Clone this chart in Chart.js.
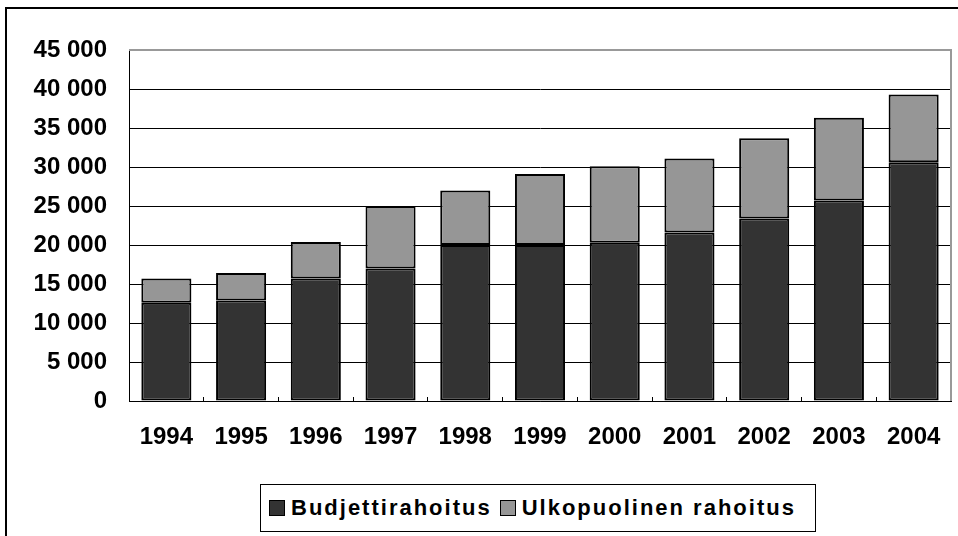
<!DOCTYPE html>
<html lang="fi">
<head>
<meta charset="utf-8">
<title>Budjettirahoitus ja ulkopuolinen rahoitus 1994–2004</title>
<script src="https://cdn.jsdelivr.net/npm/chart.js@4"></script>
<style>
    html, body { margin: 0; padding: 0; background: #fff; overflow: hidden; }
    .wrap { position: relative; width: 958px; height: 536px; }
    .frame {
        position: absolute; left: 5px; top: 7px; width: 2000px; height: 2000px;
        border-left: 2px solid #000; border-top: 2px solid #000;
    }
    #chart { position: absolute; left: 0; top: 0; }
    .legend {
        position: absolute; left: 260px; top: 484px; width: 554px; height: 46px;
        border: 1px solid #000; background: #fff;
        display: flex; align-items: center;
        font: bold 22px "Liberation Sans", Arial, sans-serif; letter-spacing: 2px; color: #000;
    }
    .legend-item { display: flex; align-items: center; }
    .legend-item:first-child { margin-left: 8px; }
    .legend-item + .legend-item { margin-left: 8px; }
    .dot {
        width: 16px; height: 16px; box-sizing: border-box; border: 1px solid #000;
        background: var(--c); margin-right: 6px;
    }
</style>
</head>
<body>
<div class="wrap">
    <div class="frame"></div>
    <canvas id="chart" width="958" height="536"></canvas>
    <div class="legend" id="chart-legend"></div>
</div>
<script>
// arvot luettu kuvasta
const years = ['1994', '1995', '1996', '1997', '1998', '1999', '2000', '2001', '2002', '2003', '2004'];
const budjetti = [12600, 12900, 15700, 17000, 20000, 20000, 20300, 21600, 23400, 25700, 30600];
const ulkopuolinen = [3100, 3500, 4700, 8000, 7000, 9100, 9800, 9500, 10300, 10600, 8700];
const seriesNames = ['Budjettirahoitus', 'Ulkopuolinen rahoitus'];
const colors = ['#333333', '#969696'];

const fmt = v => String(v).replace(/\B(?=(\d{3})+(?!\d))/g, ' ');
const tickFont = { family: '"Liberation Sans", Arial, sans-serif', size: 24, weight: 'bold' };

// harmaa kehys piirtoalueen ylä- ja oikeaan reunaan
const plotFrame = {
    id: 'plotFrame',
    afterDatasetsDraw(c) {
        const { ctx, chartArea: a } = c;
        ctx.save();
        ctx.strokeStyle = '#999';
        ctx.lineWidth = 2;
        ctx.beginPath();
        ctx.moveTo(a.left, a.top);
        ctx.lineTo(a.right, a.top);
        ctx.lineTo(a.right, a.bottom);
        ctx.stroke();
        ctx.restore();
    }
};

const chart = new Chart(document.getElementById('chart'), {
    type: 'bar',
    data: {
        labels: years,
        datasets: [budjetti, ulkopuolinen].map((d, i) => ({
            label: seriesNames[i],
            data: d,
            backgroundColor: colors[i],
            borderColor: '#000',
            borderWidth: 2,
            borderSkipped: false,
            categoryPercentage: 1,
            barPercentage: 0.67
        }))
    },
    options: {
        responsive: false,
        animation: false,
        devicePixelRatio: 1,
        layout: { padding: { top: 50, right: 7, left: 0, bottom: 0 } },
        plugins: { legend: { display: false }, tooltip: { enabled: false } },
        scales: {
            x: {
                stacked: true,
                grid: { drawOnChartArea: false, tickLength: -4, color: '#000', lineWidth: 1 },
                border: { color: '#000', width: 1 },
                ticks: { color: '#000', font: tickFont, padding: 26, maxRotation: 0 },
                afterFit: s => {
                    s.height = 135;
                    s.paddingLeft = 0;
                    s.paddingRight = 0;
                }
            },
            y: {
                stacked: true,
                min: 0,
                max: 45000,
                grid: {
                    drawTicks: false,
                    color: c => (c.tick && c.tick.value === 45000 ? 'rgba(0,0,0,0)' : '#000'),
                    lineWidth: 1
                },
                border: { color: '#000', width: 1 },
                ticks: { stepSize: 5000, color: '#000', font: tickFont, padding: 22, callback: v => fmt(v) },
                afterFit: s => { s.width = 129; }
            }
        }
    },
    plugins: [plotFrame]
});

const legendEl = document.getElementById('chart-legend');
legendEl.innerHTML = chart.data.datasets.map(ds =>
    `<span class="legend-item"><span class="dot" style="--c:${ds.backgroundColor}"></span>${ds.label}</span>`
).join('');
</script>
</body>
</html>
